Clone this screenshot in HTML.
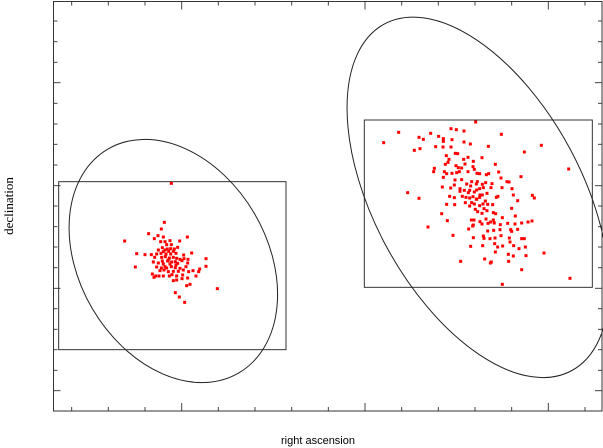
<!DOCTYPE html>
<html><head><meta charset="utf-8"><style>
html,body{margin:0;padding:0;background:#fff;width:603px;height:448px;overflow:hidden}
svg{display:block}
</style></head><body>
<svg id="chart" width="603" height="448" viewBox="0 0 603 448" xmlns="http://www.w3.org/2000/svg">
<g id="ticks"></g>
<g id="shapes"></g>
<g id="pts"></g>
<rect x="53.5" y="1.5" width="548.5" height="409.5" fill="none" stroke="#333" stroke-width="1"/>
<text x="318" y="444" text-anchor="middle" font-family="Liberation Sans, sans-serif" font-size="11" fill="#000">right ascension</text>
<text transform="translate(13,206) rotate(-90)" text-anchor="middle" font-family="Liberation Serif, serif" font-size="13" fill="#000">declination</text>
</svg>
<script>
// data units: ra, dec (arbitrary sky units)
const xTicksRa = [215,325,435,545,655,765,875,985,1095,1205,1315,1425,1535,1645,1755];
const xMajorRa = [545,1095,1645];
const yTicksDec = [1170,1108,1046,985,923,861,800,738,676,615,553,492,430,368,307,245,184,122,61];
const yMajorDec = [985,676,368,61];
const fieldRa = [[176,858],[1093,1777]];
const fieldDec = [[688,184],[873,371]];
const ellipseRa = [[520],[1434]];
const ellipseDec = [[450],[641]];
const ellipseA = [389,591];
const ellipseB = [282,312];
const ellipseAngle = [-30.3,-28.4];
const srcRa = [514,493,484,446,474,463,490,374,562,539,482,495,510,500,514,487,502,512,523,533,475,490,506,520,410,435,454,470,483,498,512,528,551,575,464,485,496,508,520,530,540,552,564,487,503,515,526,546,618,460,475,490,510,533,563,406,470,484,500,514,526,540,558,579,599,618,480,492,505,520,535,550,566,596,457,467,477,490,508,516,530,548,588,462,520,530,546,563,560,570,526,538,554,652,495,505,495,528,
1427,1196,1151,1257,1270,1292,1316,1330,1330,1353,1369,1392,1356,1392,1411,1504,1243,1260,1307,1329,1353,1465,1624,1573,1706,1366,1373,1339,1347,1391,1404,1420,1446,1344,1336,1368,1375,1385,1395,1419,1423,1431,1439,1486,1496,1303,1301,1333,1340,1356,1370,1378,1404,1459,1466,1563,1330,1365,1385,1400,1412,1429,1447,1457,1476,1503,1521,1527,1327,1352,1363,1380,1393,1409,1423,1439,1450,1461,1473,1506,1536,1223,1257,1349,1363,1380,1387,1398,1409,1419,1429,1439,1447,1456,1489,1494,1540,1553,1597,1603,1340,1364,1409,1423,1439,1449,1463,1478,1426,1433,1446,1452,1461,1480,1487,1535,1325,1414,1422,1440,1458,1472,1480,1507,1546,1342,1420,1446,1464,1483,1501,1523,1545,1565,1584,1596,1284,1406,1418,1463,1481,1500,1532,1535,1553,1359,1420,1450,1452,1470,1485,1503,1528,1565,1573,1412,1448,1484,1493,1508,1530,1541,1557,1576,1486,1525,1540,1578,1632,1382,1454,1471,1474,1526,1565,1710,1507,1396,1415,1430,1405,1430,1415,1432,1440];
const srcDec = [683,566,546,532,526,517,522,510,522,510,508,508,511,499,499,490,486,487,486,491,483,478,479,479,472,469,469,471,473,471,471,473,468,474,461,461,463,459,461,458,455,457,455,450,450,447,448,451,457,447,444,441,441,443,444,432,432,429,429,433,430,428,433,421,426,434,421,423,418,419,419,423,418,418,411,405,405,405,405,409,405,408,405,401,391,393,397,399,376,380,355,342,326,367,433,453,483,438,
867,836,805,821,815,833,824,817,809,847,844,840,814,807,801,830,782,787,793,792,792,794,797,777,726,773,772,766,755,755,761,749,760,746,740,736,730,729,741,733,725,713,712,740,717,728,718,718,712,713,715,718,718,709,712,703,701,693,694,681,675,681,680,685,682,699,688,687,672,669,678,667,662,662,657,667,670,653,670,670,667,655,638,644,640,659,644,641,639,643,636,641,648,630,641,644,648,631,647,639,620,619,615,621,616,621,620,619,605,598,593,607,601,595,592,608,592,573,573,568,576,567,573,580,585,571,558,561,563,564,559,563,561,564,567,570,552,546,555,540,542,544,544,539,545,527,520,525,518,517,519,526,519,517,517,494,496,502,492,495,507,496,487,492,477,470,465,466,474,449,456,444,447,449,424,398,380,625,625,635,655,663,688,688,648];

const NS='http://www.w3.org/2000/svg';
function xS(v){return v/3;}
function yS(v){return 411 - v/3;}
function mk(tag,attrs,parent){const e=document.createElementNS(NS,tag);for(const k in attrs)e.setAttribute(k,attrs[k]);parent.appendChild(e);return e;}
const tg=document.getElementById('ticks');
xTicksRa.forEach(v=>{
  const x=xS(v), L=xMajorRa.includes(v)?8:4;
  const b=mk('line',{x1:x,x2:x,y1:411,y2:411-L,stroke:'#444','stroke-width':1},tg);
  
  
  const t=mk('line',{x1:x,x2:x,y1:1.5,y2:1.5+L,stroke:'#444','stroke-width':1},tg);
  
  
});
yTicksDec.forEach(v=>{
  const y=yS(v), L=yMajorDec.includes(v)?7:4;
  const l=mk('line',{x1:53.5,x2:53.5+L,y1:y,y2:y,stroke:'#444','stroke-width':1},tg);
  
  
  const r=mk('line',{x1:602,x2:602-L,y1:y,y2:y,stroke:'#444','stroke-width':1},tg);
  
  
});
const sg=document.getElementById('shapes');
fieldRa.forEach((r,i)=>{
  const x0=xS(r[0]),x1=xS(r[1]),y0=yS(fieldDec[i][0]),y1=yS(fieldDec[i][1]);
  const rc=mk('rect',{x:x0,y:y0,width:x1-x0,height:y1-y0,fill:'none',stroke:'#333','stroke-width':1},sg);
  
  
});
ellipseRa.forEach((r,i)=>{
  const cx=xS(r[0]),cy=yS(ellipseDec[i][0]);
  const el=mk('ellipse',{cx:cx,cy:cy,rx:ellipseB[i]/3,ry:ellipseA[i]/3,transform:'rotate('+ellipseAngle[i]+' '+cx+' '+cy+')',fill:'none',stroke:'#222','stroke-width':1},sg);
  
  
});
const pg=document.getElementById('pts');
srcRa.forEach((r,i)=>{
  const p=mk('rect',{x:xS(r)-1.5,y:yS(srcDec[i])-1.5,width:3,height:3,fill:'#ff0000'},pg);
  
  
});
</script>
</body></html>
